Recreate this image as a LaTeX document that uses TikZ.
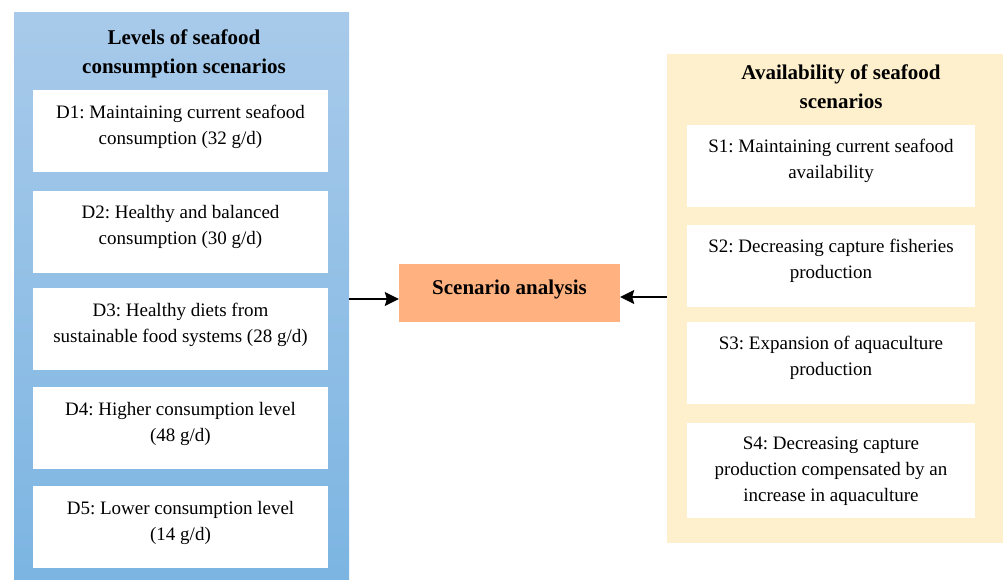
\documentclass[tikz,border=0pt]{standalone}
\usepackage{fontspec}
\setmainfont{Liberation Serif}
\usetikzlibrary{arrows.meta}
\definecolor{bluetop}{RGB}{168,202,234}
\definecolor{bluebot}{RGB}{124,181,226}
\definecolor{cream}{RGB}{254,239,205}
\definecolor{orangebox}{RGB}{255,178,128}
\frenchspacing
\tikzset{
  box/.style={draw=none, inner sep=0pt, minimum width=#1},
  wbox/.style={fill=white, draw=none, inner sep=0pt},
  txt/.style={align=center, inner sep=0pt, font=\fontsize{19}{26}\selectfont},
  ttl/.style={align=center, inner sep=0pt, font=\fontsize{21}{29}\selectfont\bfseries},
  arr/.style={line width=1.5pt, -{Stealth[length=14pt,width=14pt,inset=2pt]}}
}
\begin{document}
\begin{tikzpicture}[x=1pt,y=-1pt]
\useasboundingbox (0,0) rectangle (1003,579);
% panels
\node[box=335pt, minimum height=567pt, top color=bluetop, bottom color=bluebot] (lp) at (181.5,295.5) {};
\node[box=336pt, minimum height=489pt, fill=cream] (rp) at (835,298.5) {};
% titles
\node[ttl] (lt) at (184,54) {Levels of seafood\\consumption scenarios};
\node[ttl] (rt) at (841,86.5) {Availability of seafood\\scenarios};
% left boxes
\foreach \n/\y in {d1/131, d2/231.5, d3/329, d4/428, d5/527}
  \node[wbox, minimum width=295pt, minimum height=82pt] (\n) at (180.5,\y) {};
\node[txt] (d1t) at ([yshift=4.5pt]d1.center) {D1: Maintaining current seafood\\consumption (32 g/d)};
\node[txt] (d2t) at ([yshift=4.5pt]d2.center) {D2: Healthy and balanced\\consumption (30 g/d)};
\node[txt] (d3t) at ([yshift=4.5pt]d3.center) {D3: Healthy diets from\\sustainable food systems (28 g/d)};
\node[txt] (d4t) at ([yshift=4.5pt]d4.center) {D4: Higher consumption level\\(48 g/d)};
\node[txt] (d5t) at ([yshift=4.5pt]d5.center) {D5: Lower consumption level\\(14 g/d)};
% right boxes
\foreach \n/\y in {s1/166, s2/266, s3/363}
  \node[wbox, minimum width=288pt, minimum height=82pt] (\n) at (831,\y) {};
\node[wbox, minimum width=288pt, minimum height=95pt] (s4) at (831,470.5) {};
\node[txt] (s1t) at ([yshift=5pt]s1.center) {S1: Maintaining current seafood\\availability};
\node[txt] (s2t) at ([yshift=5pt]s2.center) {S2: Decreasing capture fisheries\\production};
\node[txt] (s3t) at ([yshift=5pt]s3.center) {S3: Expansion of aquaculture\\production};
\node[txt] (s4t) at ([yshift=-1pt]s4.center) {S4: Decreasing capture\\production compensated by an\\increase in aquaculture};
% center
\node[fill=orangebox, draw=none, inner sep=0pt, minimum width=221pt, minimum height=58pt] (sa) at (509.5,293) {};
\node[ttl] (sat) at ([yshift=4pt]sa.center) {Scenario analysis};
% arrows
\coordinate (la) at ([yshift=-6pt]sa.west);
\coordinate (ra) at ([yshift=-4pt]sa.east);
\draw[arr] (lp.east |- la) -- (la);
\draw[arr] (rp.west |- ra) -- (ra);
\end{tikzpicture}
\end{document}
